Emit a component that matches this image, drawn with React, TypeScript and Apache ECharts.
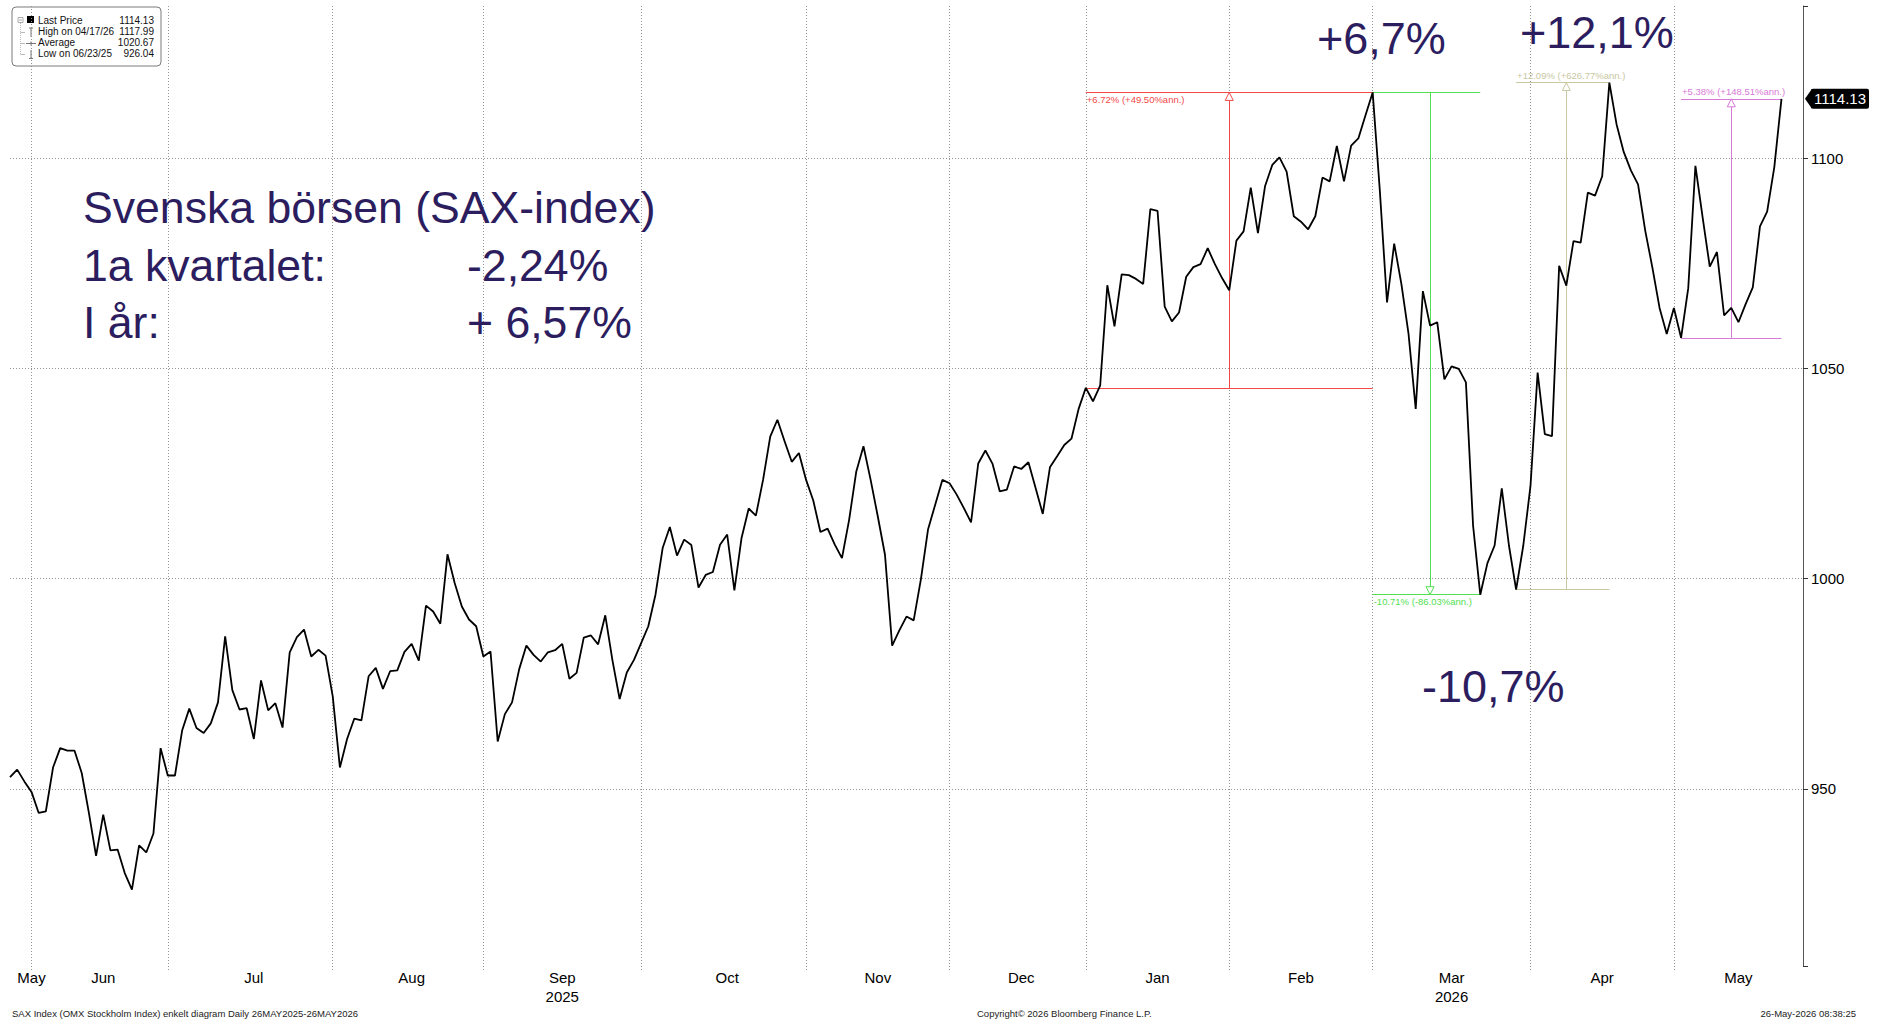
import React, { useEffect, useRef } from "react";
import * as echarts from "echarts";

// ---------- calendar (categories) ----------
const START_DATE = "2025-05-26";
const AXIS_END_DATE = "2026-05-28";
const HOLIDAYS = [
  "2025-05-29", "2025-06-06", "2025-06-20", "2025-12-24", "2025-12-25", "2025-12-26",
  "2025-12-31", "2026-01-01", "2026-01-06", "2026-04-03", "2026-04-06", "2026-05-01", "2026-05-14",
];
const MONTH_NAMES = ["Jan", "Feb", "Mar", "Apr", "May", "Jun", "Jul", "Aug", "Sep", "Oct", "Nov", "Dec"];
const YEAR_LABEL_MONTHS = ["2025-09", "2026-03"];

// ---------- values (SAX index, daily close) ----------
const PRICES = [
  952.8, 954.6, 951.8, 949.3, 944.3, 944.7, 955.1, 959.7, 959.1, 959.1,
  953.8, 944.3, 934.1, 943.9, 935.4, 935.6, 930.0, 926.04, 936.6, 934.9,
  939.4, 959.7, 953.2, 953.2, 963.9, 969.1, 964.5, 963.3, 965.6, 970.6,
  986.3, 973.5, 968.9, 969.2, 961.9, 975.8, 968.7, 970.4, 964.6, 982.5,
  986.1, 987.9, 981.5, 983.1, 981.7, 972.0, 955.1, 961.9, 966.7, 966.3,
  976.8, 978.8, 973.8, 978.0, 978.2, 982.6, 984.5, 980.5, 993.6, 992.2,
  989.3, 1005.8, 999.0, 993.4, 990.3, 988.7, 981.5, 982.7, 961.3, 967.8,
  970.6, 978.5, 984.1, 981.9, 980.3, 982.5, 983.0, 984.5, 976.2, 977.6,
  986.0, 986.5, 984.4, 991.3, 980.6, 971.4, 977.7, 980.7, 984.7, 988.7,
  996.2, 1007.3, 1012.3, 1005.5, 1009.3, 1008.0, 997.9, 1000.9, 1001.6, 1008.1,
  1010.5, 997.2, 1009.7, 1016.7, 1015.0, 1023.5, 1033.8, 1037.8, 1032.7, 1027.8,
  1029.9, 1023.5, 1018.6, 1011.1, 1011.9, 1008.1, 1004.9, 1014.0, 1025.5, 1031.5,
  1023.5, 1014.8, 1005.7, 984.1, 987.7, 991.0, 990.1, 999.8, 1011.7, 1017.6,
  1023.5, 1022.7, 1020.0, 1016.8, 1013.4, 1027.4, 1030.5, 1027.3, 1020.8, 1021.2,
  1026.7, 1026.1, 1027.7, 1021.6, 1015.4, 1026.5, 1029.1, 1031.8, 1033.3, 1040.4,
  1045.4, 1042.2, 1045.9, 1069.8, 1060.0, 1072.4, 1072.2, 1071.3, 1070.1, 1087.9,
  1087.5, 1064.7, 1061.2, 1063.3, 1071.8, 1074.1, 1074.8, 1078.6, 1074.8, 1071.5,
  1068.6, 1080.4, 1082.6, 1093.0, 1082.2, 1093.4, 1098.4, 1100.2, 1096.8, 1086.2,
  1084.9, 1083.1, 1086.2, 1095.4, 1094.5, 1102.9, 1094.5, 1103.0, 1104.7, 1110.2,
  1115.65, 1092.2, 1065.7, 1079.7, 1070.1, 1058.2, 1040.4, 1068.4, 1060.2, 1061.0,
  1047.4, 1050.5, 1049.9, 1046.7, 1012.6, 996.2, 1003.7, 1007.9, 1021.5, 1007.9,
  997.4, 1007.9, 1022.0, 1049.0, 1034.4, 1033.9, 1074.4, 1069.7, 1080.3, 1079.9,
  1091.8, 1091.1, 1095.7, 1117.99, 1108.1, 1101.5, 1097.1, 1093.8, 1082.8, 1074.0,
  1064.4, 1058.2, 1064.4, 1057.3, 1069.1, 1098.2, 1086.0, 1074.2, 1077.7, 1062.6,
  1064.4, 1061.0, 1065.3, 1069.3, 1083.8, 1087.3, 1097.9, 1114.13,
];
const LAST_PRICE = 1114.13;
const Y_TICKS = [950, 1000, 1050, 1100];
const Y_MIN = 907.9;
const Y_MAX = 1136.2;

// ---------- measurement annotations (index range, from/to values) ----------
const MEASURE_START = [150, 190, 210, 233];
const MEASURE_END = [190, 205, 223, 247];
const MEASURE_LOW = [1045.4, 996.2, 997.4, 1057.3];
const MEASURE_HIGH = [1115.65, 1115.65, 1117.99, 1114.13];
const MEASURE_UP = [true, false, true, true];
const MEASURE_TEXT = ["+6.72% (+49.50%ann.)", "-10.71% (-86.03%ann.)", "+12.09% (+626.77%ann.)", "+5.38% (+148.51%ann.)"];
const MEASURE_COLOR = ["#f24848", "#52e052", "#c8c8a2", "#d77ad7"];

// ---------- legend & texts ----------
const LEGEND_LABELS = ["Last Price", "High on 04/17/26", "Average", "Low on 06/23/25"];
const LEGEND_VALUES = ["1114.13", "1117.99", "1020.67", "926.04"];
const TITLE_LINES = ["Svenska börsen (SAX-index)", "1a kvartalet:", "I år:"];
const TITLE_VALUES = ["", "-2,24%", "+ 6,57%"];
const BIG_NOTES = ["+6,7%", "+12,1%", "-10,7%"];
const FOOTER = [
  "SAX Index (OMX Stockholm Index) enkelt diagram Daily 26MAY2025-26MAY2026",
  "Copyright\u00A9 2026 Bloomberg Finance L.P.",
  "26-May-2026 08:38:25",
];

function tradingDays(start: string, end: string, holidays: string[]) {
  const out: string[] = [];
  const d = new Date(start + "T00:00:00Z");
  const e = new Date(end + "T00:00:00Z");
  while (d <= e) {
    const wd = d.getUTCDay();
    const s = d.toISOString().slice(0, 10);
    if (wd !== 0 && wd !== 6 && holidays.indexOf(s) < 0) out.push(s);
    d.setUTCDate(d.getUTCDate() + 1);
  }
  return out;
}

const INK = "#2c1d5f";
const BIG_FONT = "'Liberation Sans', Arial, sans-serif";
const SMALL_FONT = "'Liberation Sans', Arial, sans-serif";

function buildOption() {
  const dates = tradingDays(START_DATE, AXIS_END_DATE, HOLIDAYS);
  const nData = PRICES.length;

  // month boundaries (last trading day of each month) and mid-month label positions
  const splitSet = new Set<number>();
  for (let i = 0; i < dates.length - 1; i++) {
    if (dates[i].slice(0, 7) !== dates[i + 1].slice(0, 7)) splitSet.add(i);
  }
  const monthRanges: Record<string, [number, number]> = {};
  for (let i = 0; i < nData; i++) {
    const k = dates[i].slice(0, 7);
    if (!monthRanges[k]) monthRanges[k] = [i, i];
    else monthRanges[k][1] = i;
  }
  const monthKeys = Object.keys(monthRanges);
  const labelAt = new Map<number, string>();
  monthKeys.forEach((k, mi) => {
    const [a, b] = monthRanges[k];
    // partial months at the ends are labelled a bit later than their data midpoint
    let idx = Math.floor((a + b) / 2);
    if (mi === 0) idx = b;
    if (mi === monthKeys.length - 1) idx += 1;
    const name = MONTH_NAMES[parseInt(k.slice(5, 7), 10) - 1];
    labelAt.set(idx, YEAR_LABEL_MONTHS.indexOf(k) >= 0 ? name + "\n" + k.slice(0, 4) : name);
  });

  const dotted = { color: "#959595", width: 1, type: [1, 2] as any };

  // measurement lines
  const measureLines: any[] = [];
  const measureArrows: any[] = [];
  MEASURE_START.forEach((s, k) => {
    const e = MEASURE_END[k];
    const lo = MEASURE_LOW[k];
    const hi = MEASURE_HIGH[k];
    const mid = (s + e) / 2;
    const col = MEASURE_COLOR[k];
    const ls = { color: col, width: 1, type: "solid" };
    const lab = {
      show: true,
      formatter: MEASURE_TEXT[k],
      color: col,
      fontSize: 9.5,
      fontFamily: SMALL_FONT,
      distance: [1, 2],
    };
    const textOnHigh = MEASURE_UP[k];
    const above = k >= 2;
    measureLines.push([
      { coord: [s, lo], lineStyle: ls, label: textOnHigh ? { show: false } : { ...lab, position: "insideStartBottom" } },
      { coord: [e, lo] },
    ]);
    measureLines.push([
      {
        coord: [s, hi],
        lineStyle: ls,
        label: textOnHigh ? { ...lab, position: above ? "insideStartTop" : "insideStartBottom" } : { show: false },
      },
      { coord: [e, hi] },
    ]);
    measureLines.push([{ coord: [mid, lo], lineStyle: ls, label: { show: false } }, { coord: [mid, hi] }]);
    measureArrows.push({
      coord: [mid, MEASURE_UP[k] ? hi : lo],
      symbol: "triangle",
      symbolSize: [8, 8],
      symbolRotate: MEASURE_UP[k] ? 0 : 180,
      symbolOffset: [0, MEASURE_UP[k] ? 4 : -4],
      itemStyle: { color: "#ffffff", borderColor: col, borderWidth: 1 },
      label: { show: false },
    });
  });

  const gridLines = Y_TICKS.map((v) => ({ yAxis: v, lineStyle: dotted, label: { show: false } }));

  const legendChildren: any[] = [
    { type: "rect", shape: { x: 0, y: 0, width: 149, height: 59, r: 4 }, style: { fill: "#fff", stroke: "#7a7a7a", lineWidth: 1 } },
    { type: "rect", shape: { x: 6, y: 10.5, width: 5, height: 5 }, style: { fill: "#fff", stroke: "#999", lineWidth: 0.8 } },
    { type: "line", shape: { x1: 7, y1: 13, x2: 10, y2: 13 }, style: { stroke: "#999", lineWidth: 0.8 } },
    { type: "rect", shape: { x: 15, y: 9, width: 7, height: 7 }, style: { fill: "#000" } },
    { type: "line", shape: { x1: 8.5, y1: 16, x2: 8.5, y2: 47.5 }, style: { stroke: "#aaa", lineWidth: 0.8, lineDash: [1, 1] } },
    { type: "line", shape: { x1: 8.5, y1: 25.5, x2: 13, y2: 25.5 }, style: { stroke: "#aaa", lineWidth: 0.8 } },
    { type: "line", shape: { x1: 8.5, y1: 36.5, x2: 13, y2: 36.5 }, style: { stroke: "#aaa", lineWidth: 0.8 } },
    { type: "line", shape: { x1: 8.5, y1: 47.5, x2: 13, y2: 47.5 }, style: { stroke: "#aaa", lineWidth: 0.8 } },
    { type: "line", shape: { x1: 17, y1: 21, x2: 21, y2: 21 }, style: { stroke: "#777", lineWidth: 1 } },
    { type: "line", shape: { x1: 19, y1: 21, x2: 19, y2: 30 }, style: { stroke: "#777", lineWidth: 1 } },
    { type: "line", shape: { x1: 14, y1: 36.5, x2: 24, y2: 36.5 }, style: { stroke: "#777", lineWidth: 1 } },
    { type: "line", shape: { x1: 19, y1: 34.5, x2: 19, y2: 38.5 }, style: { stroke: "#777", lineWidth: 1 } },
    { type: "line", shape: { x1: 19, y1: 43, x2: 19, y2: 51.5 }, style: { stroke: "#777", lineWidth: 1 } },
    { type: "line", shape: { x1: 17, y1: 51.5, x2: 21, y2: 51.5 }, style: { stroke: "#777", lineWidth: 1 } },
  ];
  LEGEND_LABELS.forEach((t, i) => {
    const y = 13 + i * 11.3;
    legendChildren.push({
      type: "text",
      x: 26,
      y,
      style: { text: t, fill: "#111", fontSize: 10, fontFamily: SMALL_FONT, align: "left", verticalAlign: "middle" },
    });
    legendChildren.push({
      type: "text",
      x: 142,
      y,
      style: { text: LEGEND_VALUES[i], fill: "#111", fontSize: 10, fontFamily: SMALL_FONT, align: "right", verticalAlign: "middle" },
    });
  });

  const graphics: any[] = [{ type: "group", x: 12, y: 7, z: 100, children: legendChildren }];
  const titleY = [207, 265, 322];
  TITLE_LINES.forEach((t, i) => {
    graphics.push({
      type: "text",
      x: 83,
      y: titleY[i],
      z: 50,
      style: { text: t, fill: INK, fontSize: 44.6, fontFamily: BIG_FONT, align: "left", verticalAlign: "middle" },
    });
    if (TITLE_VALUES[i]) {
      graphics.push({
        type: "text",
        x: 467,
        y: titleY[i],
        z: 50,
        style: { text: TITLE_VALUES[i], fill: INK, fontSize: 44.6, fontFamily: BIG_FONT, align: "left", verticalAlign: "middle" },
      });
    }
  });
  const noteX = [1317, 1520, 1422];
  const noteY = [38, 32, 686];
  BIG_NOTES.forEach((t, i) => {
    graphics.push({
      type: "text",
      x: noteX[i],
      y: noteY[i],
      z: 50,
      style: { text: t, fill: INK, fontSize: 45, fontFamily: BIG_FONT, align: "left", verticalAlign: "middle" },
    });
  });
  const footX = [12, 977, 1856];
  const footAlign = ["left", "left", "right"];
  FOOTER.forEach((t, i) => {
    graphics.push({
      type: "text",
      x: footX[i],
      y: 1013,
      z: 50,
      style: { text: t, fill: "#222", fontSize: 9.5, fontFamily: SMALL_FONT, align: footAlign[i], verticalAlign: "middle" },
    });
  });

  const lastIndexOnAxis = dates.length - 1;

  return {
    animation: false,
    backgroundColor: "#ffffff",
    grid: { left: 10, right: 75, top: 6, bottom: 55 },
    xAxis: {
      type: "category",
      data: dates,
      boundaryGap: false,
      axisLine: { show: false },
      axisTick: { show: true, interval: (i: number) => splitSet.has(i), length: 6, lineStyle: dotted },
      splitLine: { show: true, interval: (i: number) => splitSet.has(i), lineStyle: dotted },
      axisLabel: {
        interval: (i: number) => labelAt.has(i),
        formatter: (_v: string, i: number) => labelAt.get(i) || "",
        color: "#000",
        fontSize: 15,
        fontFamily: SMALL_FONT,
        lineHeight: 19,
        margin: 2,
        hideOverlap: false,
      },
    },
    yAxis: {
      type: "value",
      position: "right",
      min: Y_MIN,
      max: Y_MAX,
      minInterval: 50,
      maxInterval: 50,
      axisLine: { show: true, lineStyle: { color: "#555", width: 1 } },
      axisTick: { show: true, length: 5, lineStyle: { color: "#333" } },
      splitLine: { show: false },
      axisLabel: {
        formatter: (v: number) => (Y_TICKS.indexOf(Math.round(v * 100) / 100) >= 0 ? String(v) : ""),
        color: "#000",
        fontSize: 15,
        fontFamily: SMALL_FONT,
        margin: 8,
      },
    },
    graphic: graphics,
    series: [
      {
        type: "line",
        data: [],
        z: 1,
        clip: false,
        silent: true,
        markLine: {
          silent: true,
          z: 1,
          symbol: ["none", "none"],
          animation: false,
          label: { show: false },
          data: [...gridLines, ...measureLines],
        },
        markPoint: { silent: true, animation: false, data: measureArrows },
      },
      {
        type: "line",
        data: PRICES,
        z: 3,
        showSymbol: false,
        symbol: "none",
        lineStyle: { color: "#000", width: 1.8 },
        silent: true,
      },
      {
        type: "line",
        data: [],
        clip: false,
        silent: true,
        z: 6,
        markLine: {
          silent: true,
          symbol: ["none", "none"],
          animation: false,
          data: [
            {
              yAxis: LAST_PRICE,
              lineStyle: { color: "rgba(0,0,0,0)", width: 1 },
              label: {
                show: true,
                position: "end",
                distance: 8,
                formatter: LAST_PRICE.toFixed(2),
                color: "#fff",
                backgroundColor: "#000",
                padding: [3, 3, 2, 3],
                borderRadius: 2,
                fontSize: 15,
                fontFamily: SMALL_FONT,
              },
            },
          ],
        },
        markPoint: {
          silent: true,
          animation: false,
          data: [
            {
              coord: [lastIndexOnAxis, LAST_PRICE],
              symbol: "triangle",
              symbolSize: [20, 7],
              symbolRotate: 90,
              symbolOffset: [5.5, 0],
              itemStyle: { color: "#000" },
              label: { show: false },
            },
          ],
        },
      },
    ],
  };
}

export default function App() {
  const ref = useRef<HTMLDivElement>(null);
  useEffect(() => {
    document.body.style.margin = "0";
    const chart = echarts.init(ref.current as HTMLDivElement, undefined, { renderer: "svg" });
    chart.setOption(buildOption() as any);
    return () => chart.dispose();
  }, []);
  return (
    <div
      ref={ref}
      style={{ position: "absolute", left: 0, top: 0, width: 1878, height: 1021, background: "#fff" }}
    />
  );
}
